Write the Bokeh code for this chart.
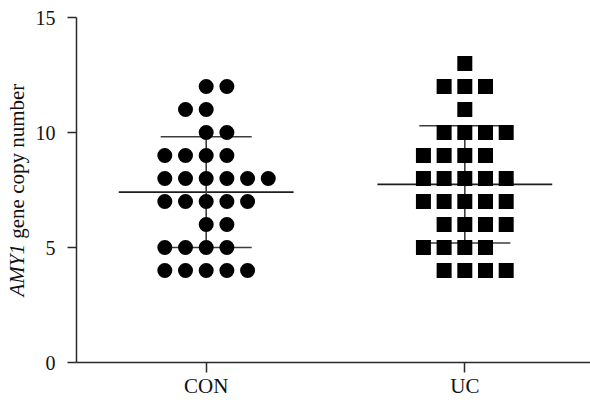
import numpy as np
from bokeh.plotting import figure
from bokeh.layouts import row
from bokeh.models import FixedTicker, Range1d
from bokeh.core.properties import value
from bokeh.embed import file_html
from bokeh.resources import INLINE

# ---- data ----
categories = ["CON", "UC"]
con_values = [12, 12, 11, 11, 10, 10, 9, 9, 9, 9, 8, 8, 8, 8, 8, 8, 7, 7, 7, 7, 7,
              6, 6, 5, 5, 5, 5, 4, 4, 4, 4, 4]
con_slots = [0, 1, -1, 0, 0, 1, -2, -1, 0, 1, -2, -1, 0, 1, 2, 3, -2, -1, 0, 1, 2,
             0, 1, -2, -1, 0, 1, -2, -1, 0, 1, 2]
uc_values = [13, 12, 12, 12, 11, 10, 10, 10, 10, 9, 9, 9, 9, 8, 8, 8, 8, 8, 7, 7, 7, 7, 7,
             6, 6, 6, 6, 5, 5, 5, 5, 4, 4, 4, 4]
uc_slots = [0, -1, 0, 1, 0, -1, 0, 1, 2, -2, -1, 0, 1, -2, -1, 0, 1, 2, -2, -1, 0, 1, 2,
            -1, 0, 1, 2, -2, -1, 0, 1, -1, 0, 1, 2]
y_ticks = [0, 5, 10, 15]
y_title_italic = "AMY1"
y_title_rest = "gene copy number"

SLOT_W = 0.08
MEAN_HALF = 0.338
SD_HALF = 0.176
FONT = "Liberation Serif"
TITLE_W = 32

y_range = Range1d(0, 15)

# ---- narrow strip holding the y-axis title (shares the y scale of the plot) ----
pt = figure(width=TITLE_W, height=400, output_backend="svg", toolbar_location=None,
            x_range=Range1d(0, TITLE_W), y_range=y_range,
            min_border_left=0, min_border_right=0, min_border_top=17, min_border_bottom=38)
pt.axis.visible = False
pt.grid.visible = False
pt.outline_line_color = None
pt.border_fill_color = "white"
pt.background_fill_color = "white"
pt.text(x=[16], y=[2.87], text=[y_title_italic], angle=np.pi / 2,
        text_font=value(FONT), text_font_style="italic", text_font_size="21px",
        text_align="left", text_baseline="middle", text_color="#111111")
pt.text(x=[16], y=[5.38], text=[y_title_rest], angle=np.pi / 2,
        text_font=value(FONT), text_font_size="21px",
        text_align="left", text_baseline="middle", text_color="#111111")

# ---- main plot ----
p = figure(width=590 - TITLE_W, height=400, output_backend="svg", toolbar_location=None,
           x_range=Range1d(0.4985, 2.486), y_range=y_range,
           min_border_left=76 - TITLE_W, min_border_right=0, min_border_top=17,
           min_border_bottom=38)
p.outline_line_color = None
p.xgrid.visible = False
p.ygrid.visible = False
p.background_fill_color = "white"
p.border_fill_color = "white"

groups = [(1, con_values, con_slots, "circle"), (2, uc_values, uc_slots, "square")]
for gx, vals, slots, marker in groups:
    v = np.array(vals, dtype=float)
    m = v.mean()
    sd = v.std(ddof=1)
    p.segment(x0=[gx - MEAN_HALF], x1=[gx + MEAN_HALF], y0=[m], y1=[m],
              line_color="#1e1e1e", line_width=1.8)
    p.segment(x0=[gx - SD_HALF, gx - SD_HALF, gx], x1=[gx + SD_HALF, gx + SD_HALF, gx],
              y0=[m + sd, m - sd, m - sd], y1=[m + sd, m - sd, m + sd],
              line_color="#3c3c3c", line_width=1.6)
    xs = [gx + s * SLOT_W for s in slots]
    p.scatter(x=xs, y=vals, marker=marker, size=15, fill_color="black", line_color=None)

for ax in (p.xaxis[0], p.yaxis[0]):
    ax.axis_line_color = "#2a2a2a"
    ax.axis_line_width = 1.5
    ax.major_tick_line_color = "#2a2a2a"
    ax.major_tick_line_width = 1.5
    ax.minor_tick_line_color = None
    ax.major_tick_in = 0
    ax.major_label_text_font = FONT
    ax.major_label_text_color = "#111111"

p.xaxis.ticker = FixedTicker(ticks=[1, 2])
p.xaxis.major_label_overrides = {i + 1: c for i, c in enumerate(categories)}
p.xaxis.major_tick_out = 10
p.xaxis.major_label_standoff = 1
p.xaxis.major_label_text_font_size = "21px"

p.yaxis.ticker = FixedTicker(ticks=y_ticks)
p.yaxis.major_tick_out = 9
p.yaxis.major_label_standoff = 12
p.yaxis.major_label_text_font_size = "20px"

layout = row(pt, p)
open("out.html", "w").write(file_html(layout, INLINE))
